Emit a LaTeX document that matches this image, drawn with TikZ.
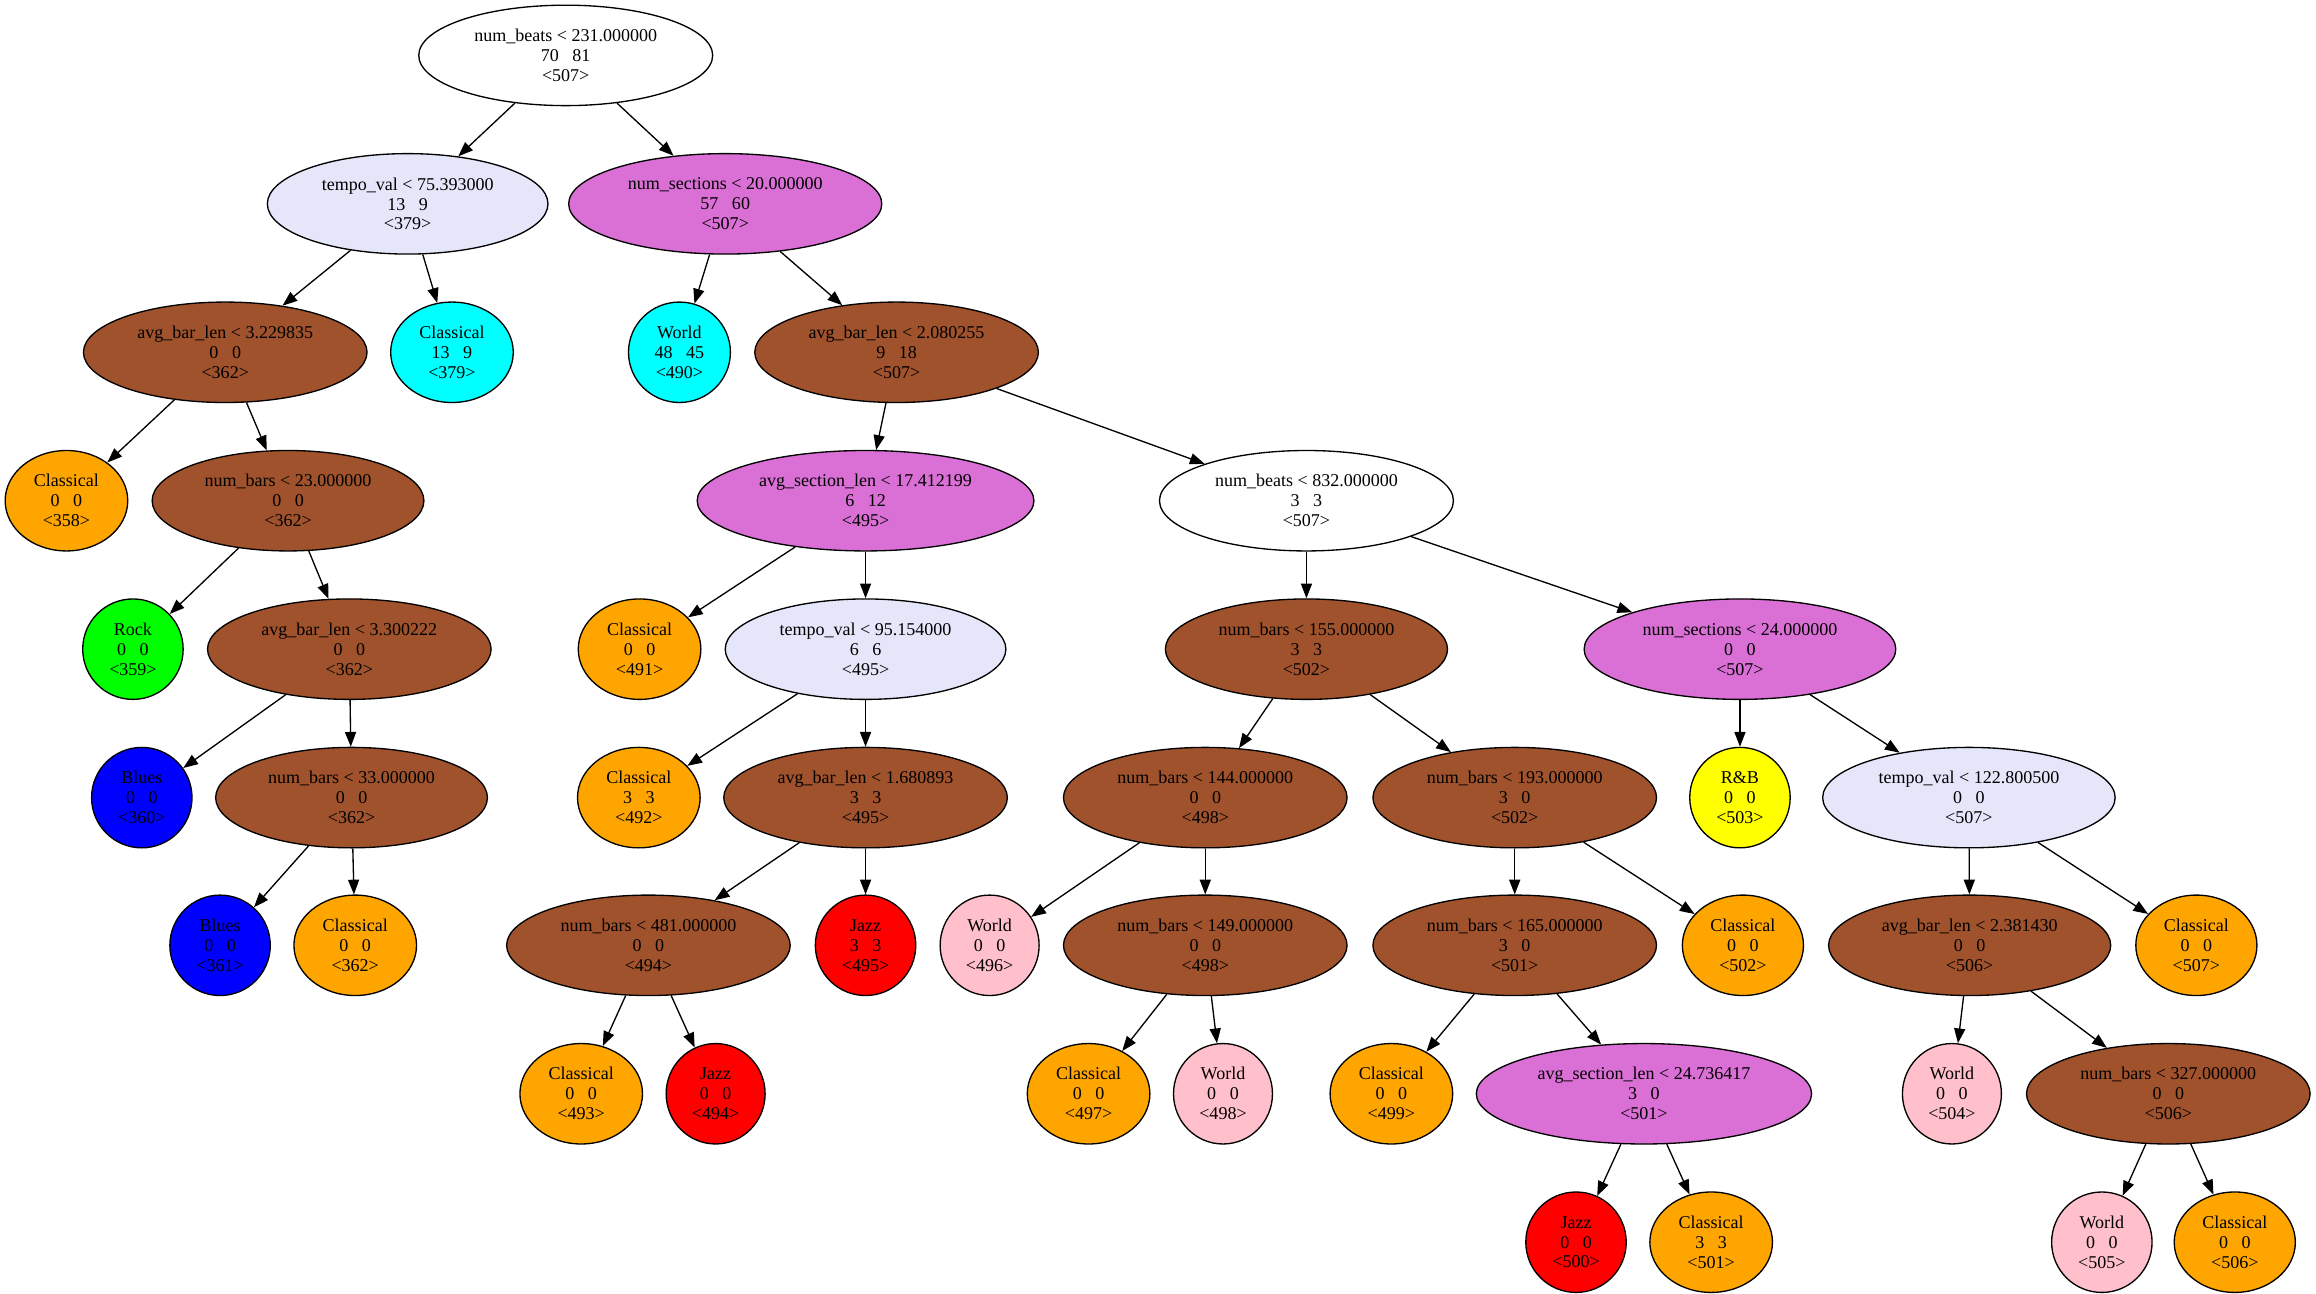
\documentclass[tikz,border=0pt]{standalone}
\usepackage{fontspec}
\setmainfont{Liberation Serif}
\usetikzlibrary{shapes.geometric,arrows.meta}
\definecolor{cLav}{HTML}{E6E6FA}
\definecolor{cOrc}{HTML}{DA70D6}
\definecolor{cSie}{HTML}{A0522D}
\definecolor{cCya}{HTML}{00FFFF}
\definecolor{cOra}{HTML}{FFA500}
\definecolor{cGre}{HTML}{00FF00}
\definecolor{cBlu}{HTML}{0000FF}
\definecolor{cRed}{HTML}{FF0000}
\definecolor{cPin}{HTML}{FFC0CB}
\definecolor{cYel}{HTML}{FFFF00}
\newcommand{\gsp}{\ \ \ }
\begin{document}
\begin{tikzpicture}[x=1pt,y=-1pt,
  nd/.style={ellipse, draw=black, line width=0.9pt, inner sep=0pt, minimum height=68pt,
    align=center, font=\fontsize{12.2}{13.5}\selectfont},
  wide/.style={nd, minimum width=#1},
  leaf/.style={nd, minimum width=#1},
  edge/.style={draw=black, line width=0.9pt, -{Triangle[length=10pt,width=7.5pt]}}]
\useasboundingbox (0,0) rectangle (1568,876);
% row 1
\node[wide=199, fill=white] (n0) at (383,37.5) {num\_beats < 231.000000\\70\gsp81\\<507>};
% row 2
\node[wide=190, fill=cLav] (tv75) at (276,138) {tempo\_val < 75.393000\\13\gsp9\\<379>};
\node[wide=212, fill=cOrc] (ns20) at (491,138) {num\_sections < 20.000000\\57\gsp60\\<507>};
% row 3
\node[wide=192, fill=cSie] (ab3229) at (152.5,238.5) {avg\_bar\_len < 3.229835\\0\gsp0\\<362>};
\node[leaf=83, fill=cCya] (cl379) at (306,238.5) {Classical\\13\gsp9\\<379>};
\node[leaf=69, fill=cCya] (w490) at (460,238.5) {World\\48\gsp45\\<490>};
\node[wide=192, fill=cSie] (ab2080) at (607,238.5) {avg\_bar\_len < 2.080255\\9\gsp18\\<507>};
% row 4
\node[leaf=83, fill=cOra] (cl358) at (45,339) {Classical\\0\gsp0\\<358>};
\node[wide=184, fill=cSie] (nb23) at (195,339) {num\_bars < 23.000000\\0\gsp0\\<362>};
\node[wide=228, fill=cOrc] (asl17) at (586,339) {avg\_section\_len < 17.412199\\6\gsp12\\<495>};
\node[wide=199, fill=white] (nb832) at (884.5,339) {num\_beats < 832.000000\\3\gsp3\\<507>};
% row 5
\node[leaf=68, fill=cGre] (rock) at (90,439.5) {Rock\\0\gsp0\\<359>};
\node[wide=192, fill=cSie] (ab3300) at (236.5,439.5) {avg\_bar\_len < 3.300222\\0\gsp0\\<362>};
\node[leaf=83, fill=cOra] (cl491) at (433,439.5) {Classical\\0\gsp0\\<491>};
\node[wide=190, fill=cLav] (tv95) at (586,439.5) {tempo\_val < 95.154000\\6\gsp6\\<495>};
\node[wide=191, fill=cSie] (nb155) at (884.5,439.5) {num\_bars < 155.000000\\3\gsp3\\<502>};
\node[wide=211, fill=cOrc] (ns24) at (1178,439.5) {num\_sections < 24.000000\\0\gsp0\\<507>};
% row 6
\node[leaf=68, fill=cBlu] (bl360) at (96,540) {Blues\\0\gsp0\\<360>};
\node[wide=184, fill=cSie] (nb33) at (238,540) {num\_bars < 33.000000\\0\gsp0\\<362>};
\node[leaf=83, fill=cOra] (cl492) at (432.5,540) {Classical\\3\gsp3\\<492>};
\node[wide=192, fill=cSie] (ab1680) at (586,540) {avg\_bar\_len < 1.680893\\3\gsp3\\<495>};
\node[wide=192, fill=cSie] (nb144) at (816,540) {num\_bars < 144.000000\\0\gsp0\\<498>};
\node[wide=192, fill=cSie] (nb193) at (1025.5,540) {num\_bars < 193.000000\\3\gsp0\\<502>};
\node[leaf=68, fill=cYel] (rb503) at (1178,540) {R\&B\\0\gsp0\\<503>};
\node[wide=198, fill=cLav] (tv122) at (1333,540) {tempo\_val < 122.800500\\0\gsp0\\<507>};
% row 7
\node[leaf=68, fill=cBlu] (bl361) at (149,640) {Blues\\0\gsp0\\<361>};
\node[leaf=83, fill=cOra] (cl362) at (240.5,640) {Classical\\0\gsp0\\<362>};
\node[wide=192, fill=cSie] (nb481) at (439,640) {num\_bars < 481.000000\\0\gsp0\\<494>};
\node[leaf=68, fill=cRed] (jz495) at (586,640) {Jazz\\3\gsp3\\<495>};
\node[leaf=67, fill=cPin] (w496) at (670,640) {World\\0\gsp0\\<496>};
\node[wide=192, fill=cSie] (nb149) at (816,640) {num\_bars < 149.000000\\0\gsp0\\<498>};
\node[wide=192, fill=cSie] (nb165) at (1025.5,640) {num\_bars < 165.000000\\3\gsp0\\<501>};
\node[leaf=82, fill=cOra] (cl502) at (1180,640) {Classical\\0\gsp0\\<502>};
\node[wide=191, fill=cSie] (ab2381) at (1333.5,640) {avg\_bar\_len < 2.381430\\0\gsp0\\<506>};
\node[leaf=82, fill=cOra] (cl507) at (1487,640) {Classical\\0\gsp0\\<507>};
% row 8
\node[leaf=83, fill=cOra] (cl493) at (393.5,740.5) {Classical\\0\gsp0\\<493>};
\node[leaf=67, fill=cRed] (jz494) at (484.5,740.5) {Jazz\\0\gsp0\\<494>};
\node[leaf=83, fill=cOra] (cl497) at (737,740.5) {Classical\\0\gsp0\\<497>};
\node[leaf=67, fill=cPin] (w498) at (828,740.5) {World\\0\gsp0\\<498>};
\node[leaf=83, fill=cOra] (cl499) at (942,740.5) {Classical\\0\gsp0\\<499>};
\node[wide=227, fill=cOrc] (asl24) at (1113,740.5) {avg\_section\_len < 24.736417\\3\gsp0\\<501>};
\node[leaf=67, fill=cPin] (w504) at (1321.5,740.5) {World\\0\gsp0\\<504>};
\node[wide=192, fill=cSie] (nb327) at (1468,740.5) {num\_bars < 327.000000\\0\gsp0\\<506>};
% row 9
\node[leaf=68, fill=cRed] (jz500) at (1067,841) {Jazz\\0\gsp0\\<500>};
\node[leaf=83, fill=cOra] (cl501) at (1158.5,841) {Classical\\3\gsp3\\<501>};
\node[leaf=68, fill=cPin] (w505) at (1423,841) {World\\0\gsp0\\<505>};
\node[leaf=82, fill=cOra] (cl506) at (1513,841) {Classical\\0\gsp0\\<506>};
% edges
\foreach \a/\b in {n0/tv75, n0/ns20, tv75/ab3229, tv75/cl379, ns20/w490, ns20/ab2080,
  ab3229/cl358, ab3229/nb23, nb23/rock, nb23/ab3300, ab3300/bl360, ab3300/nb33,
  nb33/bl361, nb33/cl362, ab2080/asl17, ab2080/nb832, asl17/cl491, asl17/tv95,
  tv95/cl492, tv95/ab1680, ab1680/nb481, ab1680/jz495, nb481/cl493, nb481/jz494,
  nb832/nb155, nb832/ns24, nb155/nb144, nb155/nb193, nb144/w496, nb144/nb149,
  nb149/cl497, nb149/w498, nb193/nb165, nb193/cl502, nb165/cl499, nb165/asl24,
  asl24/jz500, asl24/cl501, ns24/rb503, ns24/tv122, tv122/ab2381, tv122/cl507,
  ab2381/w504, ab2381/nb327, nb327/w505, nb327/cl506}
  \draw[edge] (\a) -- (\b);
\end{tikzpicture}
\end{document}
